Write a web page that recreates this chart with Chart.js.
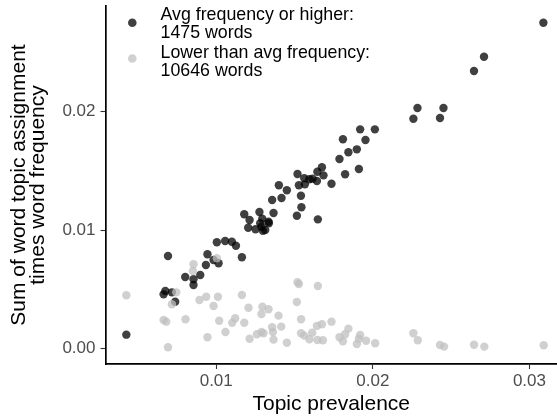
<!DOCTYPE html>
<html>
<head>
<meta charset="utf-8">
<script src="https://cdn.jsdelivr.net/npm/chart.js@4/dist/chart.umd.min.js"></script>
<style>
html,body{margin:0;padding:0;background:#fff;overflow:hidden;}
canvas{display:block;}
</style>
</head>
<body>
<canvas id="c" width="557" height="417"></canvas>
<script>
// ---- data ----
const highX = [0.03089,0.02710,0.02646,0.02285,0.02451,0.02259,0.02429,0.01919,0.02013,0.01809,
  0.01953,0.01898,0.01844,0.01787,0.01911,0.01823,0.01675,0.01646,0.01685,0.01519,
  0.01562,0.01595,0.01615,0.01643,0.01566,0.01528,0.01736,0.01400,0.01451,0.01541,
  0.01417,0.01357,0.01544,0.01366,0.01276,0.01179,0.01515,0.01649,0.01213,0.01294,
  0.01281,0.01336,0.01204,0.01251,0.01298,0.01289,0.01313,0.01334,0.01004,0.01057,
  0.01100,0.01126,0.00692,0.00944,0.01164,0.00983,0.01015,0.00934,0.00802,0.00898,
  0.00855,0.00855,0.00675,0.00664,0.00717,0.00738,0.00426];
const highY = [0.02752,0.02465,0.02344,0.02031,0.02031,0.01941,0.01947,0.01851,0.01851,0.01767,
  0.01761,0.01682,0.01657,0.01600,0.01516,0.01471,0.01530,0.01493,0.01462,0.01473,
  0.01437,0.01429,0.01434,0.01414,0.01386,0.01378,0.01391,0.01378,0.01336,0.01290,
  0.01271,0.01254,0.01192,0.01144,0.01152,0.01133,0.01121,0.01090,0.01085,0.01096,
  0.01057,0.01057,0.01019,0.01006,0.00994,0.01028,0.01000,0.01070,0.00896,0.00907,
  0.00901,0.00867,0.00780,0.00795,0.00769,0.00746,0.00719,0.00704,0.00603,0.00620,
  0.00583,0.00535,0.00484,0.00456,0.00473,0.00394,0.00115];
const lowX = [0.00426,0.00855,0.01004,0.00851,0.00745,0.00717,0.00893,0.00936,0.01011,0.00983,
  0.01164,0.01206,0.01295,0.01334,0.01289,0.01398,0.01519,0.01528,0.01649,0.01515,
  0.00664,0.00681,0.00804,0.01019,0.01121,0.01102,0.01179,0.01542,0.01415,0.01357,
  0.01362,0.01059,0.00944,0.01213,0.01260,0.01289,0.01302,0.01366,0.01451,0.01542,
  0.01562,0.01595,0.01613,0.01646,0.01681,0.01643,0.01675,0.01736,0.01844,0.01787,
  0.01823,0.01809,0.01919,0.01911,0.01957,0.01898,0.02015,0.02259,0.02287,0.02429,
  0.02455,0.02646,0.02712,0.03091,0.00692];
const lowY = [0.00448,0.00710,0.00761,0.00653,0.00473,0.00372,0.00408,0.00436,0.00436,0.00358,
  0.00451,0.00343,0.00352,0.00330,0.00290,0.00276,0.00558,0.00544,0.00527,0.00391,
  0.00239,0.00225,0.00245,0.00233,0.00254,0.00216,0.00216,0.00245,0.00183,0.00178,
  0.00138,0.00138,0.00093,0.00081,0.00118,0.00138,0.00127,0.00073,0.00047,0.00127,
  0.00107,0.00076,0.00132,0.00070,0.00068,0.00189,0.00203,0.00225,0.00166,0.00093,
  0.00118,0.00059,0.00112,0.00081,0.00064,0.00036,0.00042,0.00127,0.00068,0.00028,
  0.00014,0.00030,0.00014,0.00025,0.00008];
const seriesNames = [["Avg frequency or higher:", "1475 words"], ["Lower than avg frequency:", "10646 words"]];
const xTicks = [0.01, 0.02, 0.03];
const xTickLabels = ["0.01", "0.02", "0.03"];
const yTicks = [0.00, 0.01, 0.02];
const yTickLabels = ["0.00", "0.01", "0.02"];
const xTitle = "Topic prevalence";
const yTitle = ["Sum of word topic assignment", "times word frequency"];

// ---- styling ----
const FONT = "'Liberation Sans', Arial, Helvetica, sans-serif";
const darkCol = "rgba(0,0,0,0.75)";
const lightCol = "rgba(192,192,192,0.75)";
Chart.defaults.font.family = FONT;

const toPts = (xs, ys) => xs.map((x, i) => ({x: x, y: ys[i]}));

const legendPlugin = {
  id: 'inlineLegend',
  afterDraw(chart) {
    const ctx = chart.ctx;
    ctx.save();
    const cols = [darkCol, lightCol];
    const dotY = [22.7, 58.5];
    const baseY = [[19.5, 38.2], [57.6, 75.5]];
    ctx.font = "17.8px " + FONT;
    ctx.textAlign = 'left';
    ctx.textBaseline = 'alphabetic';
    for (let k = 0; k < 2; k++) {
      ctx.beginPath();
      ctx.fillStyle = cols[k];
      ctx.arc(132.3, dotY[k], 4.3, 0, Math.PI * 2);
      ctx.fill();
      ctx.fillStyle = '#000';
      seriesNames[k].forEach((t, j) => ctx.fillText(t, 160.5, baseY[k][j]));
    }
    ctx.restore();
  }
};

function fitX(s) { s.height = 53; s.paddingLeft = 0; s.paddingRight = 0; }
function fitY(s) { s.width = 105; s.paddingTop = 0; s.paddingBottom = 0; }

new Chart(document.getElementById('c'), {
  type: 'scatter',
  data: {
    datasets: [
      { label: seriesNames[1].join(' '), data: toPts(lowX, lowY), backgroundColor: lightCol,
        pointRadius: 4.2, pointBorderWidth: 0, borderWidth: 0, order: 0 },
      { label: seriesNames[0].join(' '), data: toPts(highX, highY), backgroundColor: darkCol,
        pointRadius: 4.2, pointBorderWidth: 0, borderWidth: 0, order: 1 }
    ]
  },
  options: {
    responsive: false,
    animation: false,
    devicePixelRatio: 1,
    layout: { autoPadding: false, padding: { top: 6, left: 0.5, right: 0, bottom: 0 } },
    plugins: { legend: { display: false }, tooltip: { enabled: false } },
    scales: {
      x: {
        type: 'linear',
        min: 0.00293, max: 0.03176,
        afterBuildTicks: s => { s.ticks = xTicks.map(v => ({value: v})); },
        afterFit: fitX,
        border: { display: true, color: '#000', width: 1.7 },
        grid: { display: true, drawOnChartArea: false, drawTicks: true, tickLength: 5, tickColor: '#333', tickWidth: 1.1 },
        ticks: { color: '#4d4d4d', font: { size: 17 }, padding: 2, maxRotation: 0, autoSkip: false,
          callback: (v, i) => xTickLabels[i] },
        title: { display: true, text: xTitle, color: '#000', font: { size: 21, lineHeight: 1.2 }, padding: 0 }
      },
      y: {
        type: 'linear',
        min: -0.00133, max: 0.02894,
        afterBuildTicks: s => { s.ticks = yTicks.map(v => ({value: v})); },
        afterFit: fitY,
        border: { display: true, color: '#000', width: 1.7 },
        grid: { display: true, drawOnChartArea: false, drawTicks: true, tickLength: 5, tickColor: '#333', tickWidth: 1.1 },
        ticks: { color: '#4d4d4d', font: { size: 17 }, padding: 5, autoSkip: false,
          callback: (v, i) => yTickLabels[i] },
        title: { display: true, text: yTitle, color: '#000', font: { size: 21, lineHeight: 0.9 }, padding: { top: 9.5, bottom: 0 } }
      }
    }
  },
  plugins: [legendPlugin]
});
</script>
</body>
</html>
